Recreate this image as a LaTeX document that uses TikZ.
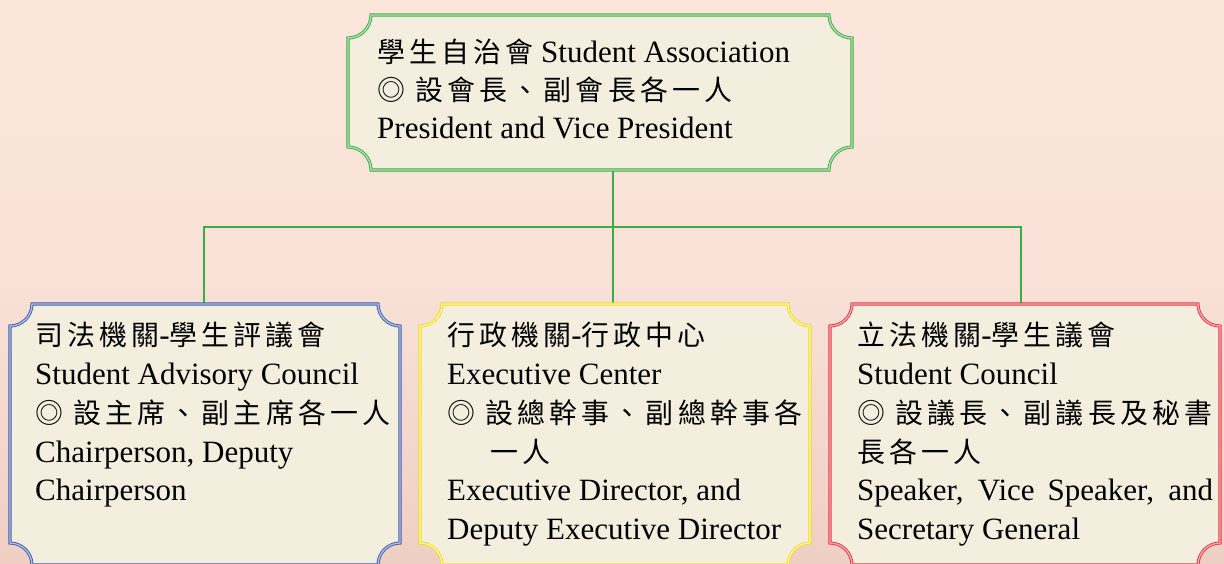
\documentclass[tikz,border=0pt]{standalone}
\usepackage{fontspec}
\setmainfont{Liberation Serif}
\newfontfamily\cjk{Noto Sans CJK TC}[Scale=0.9,LetterSpace=15]
\definecolor{bgtop}{HTML}{FCE6DC}
\definecolor{bgmid}{HTML}{F9E1D7}
\definecolor{bgbot}{HTML}{EFCFC4}
\definecolor{boxfill}{HTML}{F4EEDF}
\definecolor{conn}{HTML}{3AAE44}
\definecolor{greenD}{HTML}{3DAA48}
\definecolor{greenL}{HTML}{B5E3B0}
\definecolor{blueD}{HTML}{3F5FA8}
\definecolor{blueL}{HTML}{AFC0E6}
\definecolor{yellowD}{HTML}{F0DC20}
\definecolor{yellowL}{HTML}{FFF7A8}
\definecolor{redD}{HTML}{E53947}
\definecolor{redL}{HTML}{F7A9B0}
\newcommand\plaque[6]{%
  \path[#6] (#1+#5,#2) -- (#3-#5,#2) arc[start angle=180,end angle=90,radius=#5]
    -- (#3,#4-#5) arc[start angle=270,end angle=180,radius=#5]
    -- (#1+#5,#4) arc[start angle=0,end angle=-90,radius=#5]
    -- (#1,#2+#5) arc[start angle=90,end angle=0,radius=#5] -- cycle;}
\begin{document}
\begin{tikzpicture}[x=1pt,y=-1pt,
  boxarea/.style={rectangle,inner sep=0pt,draw=none},
  plaquebox/.style={fill=boxfill,line width=0.9pt,double distance=1.3pt,draw=#1D,double=#1L},
  connline/.style={draw=conn,line width=1.9pt},
  txt/.style={anchor=base west,inner sep=0pt,font=\fontsize{31}{38}\selectfont}]
\useasboundingbox (0,0) rectangle (1224,563);
\shade[top color=bgtop,bottom color=bgbot,middle color=bgmid] (0,0) rectangle (1224,563);

% box areas
\node[boxarea,minimum width=504pt,minimum height=155pt] (top) at (600,92.5) {};
\node[boxarea,minimum width=390pt,minimum height=261pt] (left) at (205,434.5) {};
\node[boxarea,minimum width=390pt,minimum height=261pt] (mid) at (615,434.5) {};
\node[boxarea,minimum width=390pt,minimum height=261pt] (right) at (1025,434.5) {};
\coordinate (drop) at (613,0);

% connectors
\draw[connline] (top.south -| drop) -- (drop |- mid.north);
\draw[connline] (left.north -| 204,0) -- (204,227) -- (1021,227) -- (right.north -| 1021,0);

% plaques
\plaque{348}{15}{852}{170}{23}{plaquebox=green}
\plaque{10}{304}{400}{565}{22}{plaquebox=blue}
\plaque{420}{304}{810}{565}{22}{plaquebox=yellow}
\plaque{830}{304}{1220}{565}{22}{plaquebox=red}

% top text
\node[txt] (t1) at (377,62) {{\cjk 學生自治會} Student Association};
\node[txt] (t2) at (377,100) {{\cjk ◎ 設會長、副會長各一人}};
\node[txt] (t3) at (377,138) {President and Vice President};

% left text
\node[txt] (a1) at (35,345) {{\cjk 司法機關}-{\cjk 學生評議會}};
\node[txt] (a2) at (35,384) {Student Advisory Council};
\node[txt] (a3) at (35,423) {{\cjk ◎ 設主席、副主席各一人}};
\node[txt] (a4) at (35,462) {Chairperson, Deputy};
\node[txt] (a5) at (35,500) {Chairperson};

% middle text
\node[txt] (b1) at (447,345) {{\cjk 行政機關}-{\cjk 行政中心}};
\node[txt] (b2) at (447,384) {Executive Center};
\node[txt] (b3) at (447,423) {{\cjk ◎ 設總幹事、副總幹事各}};
\node[txt] (b4) at (490,462) {{\cjk 一人}};
\node[txt] (b5) at (447,500) {Executive Director, and};
\node[txt] (b6) at (447,539) {Deputy Executive Director};

% right text
\node[txt] (c1) at (857,345) {{\cjk 立法機關}-{\cjk 學生議會}};
\node[txt] (c2) at (857,384) {Student Council};
\node[txt] (c3) at (857,423) {{\cjk ◎ 設議長、副議長及秘書}};
\node[txt] (c4) at (857,462) {{\cjk 長各一人}};
\node[txt] (c5) at (857,500) {\makebox[356pt][s]{Speaker, Vice Speaker, and}};
\node[txt] (c6) at (857,539) {Secretary General};
\end{tikzpicture}
\end{document}
